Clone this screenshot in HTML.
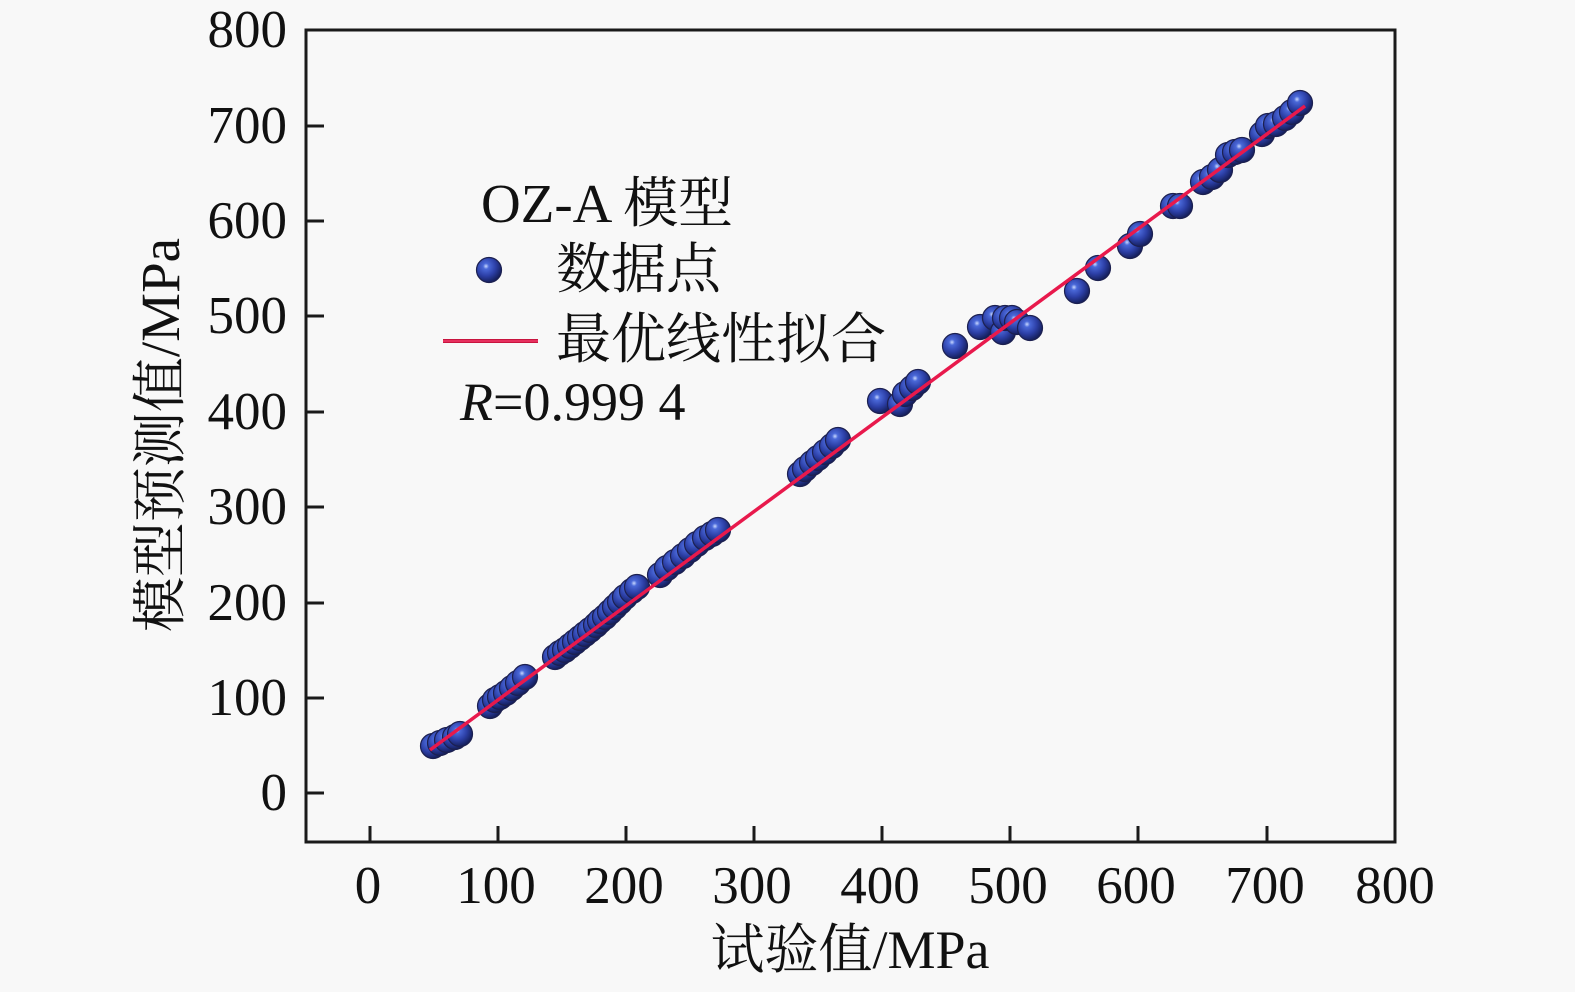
<!DOCTYPE html>
<html>
<head>
<meta charset="utf-8">
<style>
html,body{margin:0;padding:0;background:#f8f8f8;}
svg{display:block;}
text{font-family:"Liberation Serif","Noto Serif CJK SC","Noto Sans CJK SC",serif;fill:#111;}
</style>
</head>
<body>
<svg width="1575" height="992" viewBox="0 0 1575 992" xmlns="http://www.w3.org/2000/svg">
<defs>
<radialGradient id="ball" cx="0.38" cy="0.35" r="0.65">
<stop offset="0" stop-color="#c8d8ff"/>
<stop offset="0.18" stop-color="#4a68d8"/>
<stop offset="0.6" stop-color="#2c3fa6"/>
<stop offset="1" stop-color="#16205e"/>
</radialGradient>
</defs>
<rect width="1575" height="992" fill="#f8f8f8"/>
<rect x="306" y="30" width="1089" height="812" fill="none" stroke="#1a1a1a" stroke-width="3"/>
<path stroke="#1a1a1a" stroke-width="3" fill="none" d="M306 126h18M306 221h18M306 316h18M306 412h18M306 507h18M306 603h18M306 698h18M306 793h18M370 842v-16M498 842v-16M626 842v-16M754 842v-16M882 842v-16M1010 842v-16M1138 842v-16M1267 842v-16"/>
<g font-size="53" text-anchor="end">
<text x="287" y="47">800</text><text x="287" y="143">700</text><text x="287" y="238">600</text>
<text x="287" y="333">500</text><text x="287" y="429">400</text><text x="287" y="524">300</text>
<text x="287" y="620">200</text><text x="287" y="715">100</text><text x="287" y="810">0</text>
</g>
<g font-size="53" text-anchor="middle">
<text x="368" y="903">0</text><text x="496" y="903">100</text><text x="624" y="903">200</text>
<text x="752" y="903">300</text><text x="880" y="903">400</text><text x="1008" y="903">500</text>
<text x="1136" y="903">600</text><text x="1265" y="903">700</text><text x="1395" y="903">800</text>
</g>
<text x="850" y="968" font-size="54" text-anchor="middle">试验值/MPa</text>
<text transform="translate(179,435) rotate(-90)" font-size="55" text-anchor="middle">模型预测值/MPa</text>
<g fill="url(#ball)" stroke="#1c2050" stroke-width="1.2">
<circle cx="433" cy="746" r="12.5"/><circle cx="440" cy="743" r="12.5"/><circle cx="447" cy="740" r="12.5"/><circle cx="455" cy="737" r="12.5"/><circle cx="460" cy="734" r="12.5"/>
<circle cx="490" cy="706" r="12.5"/><circle cx="495" cy="700" r="12.5"/><circle cx="500" cy="697" r="12.5"/><circle cx="506" cy="693" r="12.5"/><circle cx="512" cy="688" r="12.5"/><circle cx="518" cy="683" r="12.5"/><circle cx="525" cy="677" r="12.5"/>
<circle cx="555" cy="657" r="12.5"/><circle cx="560" cy="653" r="12.5"/><circle cx="565" cy="650" r="12.5"/><circle cx="570" cy="646" r="12.5"/><circle cx="575" cy="642" r="12.5"/><circle cx="580" cy="638" r="12.5"/><circle cx="585" cy="634" r="12.5"/><circle cx="590" cy="630" r="12.5"/>
<circle cx="596" cy="625" r="12.5"/><circle cx="600" cy="621" r="12.5"/><circle cx="605" cy="617" r="12.5"/><circle cx="610" cy="612" r="12.5"/><circle cx="615" cy="607" r="12.5"/><circle cx="620" cy="602" r="12.5"/><circle cx="625" cy="597" r="12.5"/><circle cx="632" cy="591" r="12.5"/><circle cx="637" cy="587" r="12.5"/>
<circle cx="660" cy="575" r="12.5"/><circle cx="667" cy="568" r="12.5"/><circle cx="675" cy="562" r="12.5"/><circle cx="683" cy="556" r="12.5"/><circle cx="690" cy="550" r="12.5"/><circle cx="697" cy="544" r="12.5"/><circle cx="705" cy="538" r="12.5"/><circle cx="712" cy="534" r="12.5"/><circle cx="718" cy="530" r="12.5"/>
<circle cx="800" cy="474" r="12.5"/><circle cx="805" cy="469" r="12.5"/><circle cx="812" cy="463" r="12.5"/><circle cx="818" cy="458" r="12.5"/><circle cx="825" cy="452" r="12.5"/><circle cx="832" cy="446" r="12.5"/><circle cx="838" cy="440" r="12.5"/>
<circle cx="880" cy="401" r="12.5"/><circle cx="900" cy="404" r="12.5"/><circle cx="905" cy="394" r="12.5"/><circle cx="912" cy="388" r="12.5"/><circle cx="918" cy="382" r="12.5"/><circle cx="955" cy="346" r="12.5"/>
<circle cx="980" cy="327" r="12.5"/><circle cx="995" cy="318" r="12.5"/><circle cx="1003" cy="332" r="12.5"/><circle cx="1005" cy="318" r="12.5"/><circle cx="1012" cy="318" r="12.5"/><circle cx="1017" cy="322" r="12.5"/><circle cx="1030" cy="328" r="12.5"/>
<circle cx="1077" cy="291" r="12.5"/><circle cx="1098" cy="268" r="12.5"/><circle cx="1130" cy="246" r="12.5"/><circle cx="1140" cy="234" r="12.5"/><circle cx="1173" cy="206" r="12.5"/><circle cx="1180" cy="206" r="12.5"/>
<circle cx="1203" cy="182" r="12.5"/><circle cx="1212" cy="177" r="12.5"/><circle cx="1220" cy="170" r="12.5"/><circle cx="1228" cy="155" r="12.5"/><circle cx="1235" cy="152" r="12.5"/><circle cx="1242" cy="150" r="12.5"/>
<circle cx="1262" cy="134" r="12.5"/><circle cx="1268" cy="126" r="12.5"/><circle cx="1276" cy="124" r="12.5"/><circle cx="1285" cy="118" r="12.5"/><circle cx="1292" cy="112" r="12.5"/><circle cx="1300" cy="103" r="12.5"/>
</g>
<line x1="430" y1="750" x2="1305" y2="106" stroke="#e8194c" stroke-width="3.5"/>
<text x="481" y="222" font-size="55">OZ-A 模型</text>
<circle cx="489" cy="270" r="12.5" fill="url(#ball)" stroke="#1c2050" stroke-width="1.2"/>
<text x="556" y="288" font-size="55">数据点</text>
<line x1="443" y1="341" x2="538" y2="341" stroke="#c8143f" stroke-width="4"/>
<line x1="443" y1="341" x2="538" y2="341" stroke="#f03a68" stroke-width="1.5"/>
<text x="556" y="358" font-size="55">最优线性拟合</text>
<text x="460" y="420" font-size="54"><tspan font-style="italic">R</tspan>=0.999 4</text>
</svg>
</body>
</html>
